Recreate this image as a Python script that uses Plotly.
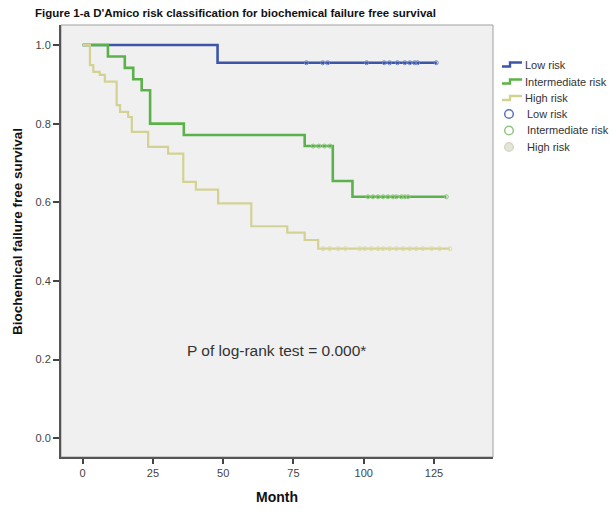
import plotly.graph_objects as go

# ---------------- data ----------------
groups = ["Low risk", "Intermediate risk", "High risk"]

low_t = [0, 48, 126]
low_s = [1.0, 0.955, 0.955]
low_cens_t = [79.6, 85.4, 87.2, 101, 107.3, 109.2, 112, 114.6, 116.4, 118.1, 119.2, 125.8]

int_t = [0, 9, 15, 18, 21, 24, 36, 79, 89, 96, 129.4]
int_s = [1.0, 0.971, 0.942, 0.913, 0.885, 0.80, 0.771, 0.743, 0.654, 0.614, 0.614]
int_cens_t = [82, 84, 86, 88, 101.5, 103.3, 105.1, 106.9, 108.6, 110.4, 111.6,
              113.4, 114.6, 115.8, 129.4]

high_t = [0, 2.6, 3.8, 6.1, 7.9, 12.1, 13.3, 16.2, 17.5, 23.3, 30.4, 35.8,
          40.3, 48.2, 60, 72.8, 79, 83.8, 130.6]
high_s = [1.0, 0.949, 0.932, 0.924, 0.907, 0.847, 0.830, 0.817, 0.779, 0.741,
          0.724, 0.652, 0.632, 0.597, 0.539, 0.523, 0.504, 0.482, 0.482]
high_cens_t = [85.5, 87.9, 90.9, 93.5, 98.6, 100.4, 102.7, 105.1, 106.9, 109.2,
               111.6, 114, 116.4, 118.7, 121.1, 124.1, 127, 130.6]

x_ticks = [0, 25, 50, 75, 100, 125]
y_ticks = [0.0, 0.2, 0.4, 0.6, 0.8, 1.0]
y_tick_labels = ["0.0", "0.2", "0.4", "0.6", "0.8", "1.0"]

title_text = "Figure 1-a D'Amico risk classification for biochemical failure free survival"
x_title = "Month"
y_title = "Biochemical failure free survival"
p_text = "P of log-rank test = 0.000*"

line_colors = ["#3c55a6", "#5cb24a", "#d3d293"]
cens_colors = ["#6f86c8", "#8cc67f", "#dcdcae"]
legend_circle_line = ["#5a73c0", "#8fc783", "#d8d8c4"]
legend_circle_fill = ["rgba(0,0,0,0)", "rgba(0,0,0,0)", "#e4e4d8"]
line_widths = [2.6, 2.6, 2.2]

# layout geometry (pixels)
W, H = 613, 512
ML, MR, MT, MB = 61, 120, 25, 55
PW, PH = W - ML - MR, H - MT - MB


def px_x(p):
    return (p - ML) / PW


def px_y(p):
    return (H - MB - p) / PH


def step_value(ts, ss, t):
    v = ss[0]
    for ti, si in zip(ts, ss):
        if ti <= t:
            v = si
    return v


curves = [(low_t, low_s, low_cens_t), (int_t, int_s, int_cens_t), (high_t, high_s, high_cens_t)]

fig = go.Figure()

for i, (ts, ss, _) in enumerate(curves):
    fig.add_trace(go.Scatter(
        x=ts, y=ss, mode="lines", name=groups[i],
        line=dict(shape="hv", color=line_colors[i], width=line_widths[i]),
    ))

for i, (ts, ss, cs) in enumerate(curves):
    fig.add_trace(go.Scatter(
        x=cs, y=[step_value(ts, ss, c) for c in cs], mode="markers",
        name=groups[i] + " (censored)",
        marker=dict(symbol="circle-open", size=4, color=cens_colors[i],
                    line=dict(width=1, color=cens_colors[i])),
    ))

fig.add_annotation(
    x=69, y=0.222, xref="x", yref="y", text=p_text, showarrow=False,
    font=dict(family="Liberation Sans, Arial", size=15.5, color="#333333"),
)

# y-axis title (placed as in the reference, slightly above plot centre)
fig.add_annotation(
    x=px_x(18), y=px_y(232), xref="paper", yref="paper", text=y_title,
    showarrow=False, textangle=-90, xanchor="center", yanchor="middle",
    font=dict(family="Liberation Sans, Arial", size=13.5, color="#111111",
              weight="bold"),
)

# plot frame (top/right thin border)
fig.add_shape(type="rect", xref="paper", yref="paper", x0=0, y0=0, x1=1, y1=1,
              line=dict(color="#a0a0a0", width=1), layer="below")

# ---- manual legend (step icons + circles) ----
legend_font = dict(family="Liberation Sans, Arial", size=11, color="#333333")
row_y = [64.5, 81.5, 98, 114, 130.5, 147]
text_x = 523
for i in range(3):
    cy = row_y[i]
    x0, xm, x1 = 502, 510, 522
    path = "M {a},{b} L {c},{b} L {c},{d} L {e},{d}".format(
        a=px_x(x0), b=px_y(cy + 2), c=px_x(xm), d=px_y(cy - 2), e=px_x(x1))
    fig.add_shape(type="path", xref="paper", yref="paper", path=path,
                  line=dict(color=line_colors[i], width=2.4))
    fig.add_annotation(x=px_x(text_x), y=px_y(cy), xref="paper", yref="paper",
                       text=groups[i], showarrow=False, xanchor="left",
                       yanchor="middle", font=legend_font)
for i in range(3):
    cy = row_y[3 + i]
    cx, r = 509, 4.3
    fig.add_shape(type="circle", xref="paper", yref="paper",
                  x0=px_x(cx - r), x1=px_x(cx + r), y0=px_y(cy + r), y1=px_y(cy - r),
                  line=dict(color=legend_circle_line[i], width=1.5),
                  fillcolor=legend_circle_fill[i])
    fig.add_annotation(x=px_x(text_x + 2), y=px_y(cy), xref="paper", yref="paper",
                       text=groups[i], showarrow=False, xanchor="left",
                       yanchor="middle", font=legend_font)

fig.update_layout(
    width=W, height=H,
    margin=dict(l=ML, r=MR, t=MT, b=MB, autoexpand=False),
    paper_bgcolor="white",
    plot_bgcolor="#f0f0f0",
    font=dict(family="Liberation Sans, Arial", size=11, color="#333333"),
    title=dict(text=title_text, x=35 / W, xanchor="left", y=1 - 13 / H,
               yanchor="middle",
               font=dict(family="Liberation Sans, Arial", size=11.5, color="#111111",
                         weight="bold")),
    showlegend=False,
    xaxis=dict(range=[-7.7, 146], tickvals=x_ticks, ticks="outside", ticklen=5,
               tickwidth=1.5, tickcolor="#444444", showline=True, linewidth=2,
               linecolor="#555555", showgrid=False, zeroline=False, automargin=False,
               tickfont=dict(size=11, color="#444444"),
               title=dict(text=x_title, standoff=14,
                          font=dict(size=14, color="#111111", weight="bold"))),
    yaxis=dict(range=[-0.048, 1.051], tickvals=y_ticks, ticktext=y_tick_labels,
               ticks="outside", ticklen=6, tickwidth=1.5, tickcolor="#444444",
               showline=True, linewidth=2, linecolor="#555555", showgrid=False,
               zeroline=False, automargin=False,
               tickfont=dict(size=11, color="#444444")),
)

fig.write_html("out.html", config={"displayModeBar": False},
               post_script="document.body.style.margin='0px';")
